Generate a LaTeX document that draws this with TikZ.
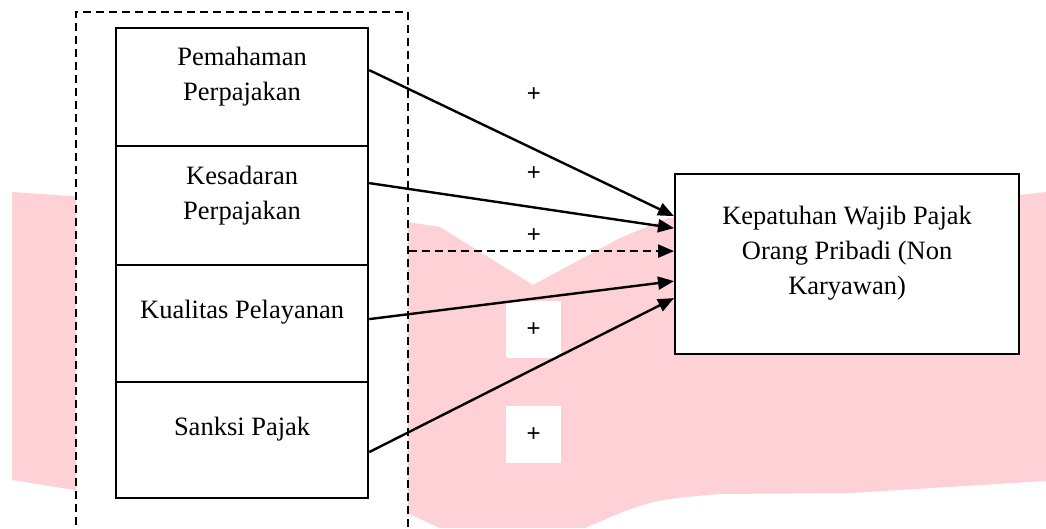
\documentclass[tikz,border=0pt]{standalone}
\usepackage{fontspec}
\setmainfont{Liberation Serif}
\newfontfamily\plusfont{Liberation Sans}
\usetikzlibrary{arrows.meta,calc}
\definecolor{wm}{RGB}{253,209,213}
\begin{document}
\begin{tikzpicture}[x=1pt,y=-1pt,
  box/.style={draw,line width=2.2pt,fill=white,minimum width=252pt,anchor=north west,inner sep=0pt},
  lbl/.style={font=\fontsize{26.5}{35}\selectfont,align=center,inner sep=0pt},
  plus/.style={font=\plusfont\fontsize{24}{24}\selectfont,inner sep=0pt},
  plusbg/.style={plus,fill=white,minimum width=55pt,minimum height=57pt},
  arr/.style={line width=2.4pt,-{Triangle[length=16pt,width=13pt]}},
  darr/.style={arr,dash pattern=on 8pt off 5pt}
]
\useasboundingbox (0,0) rectangle (1046,528);
\clip (0,0) rectangle (1046,528);
% watermark
\fill[wm] (12,192) -- (200,205) -- (407,222) -- (440,227) -- (533,285) -- (620,238) -- (668,218)
  -- (1020,195) -- (1046,192) -- (1046,481) -- (850,493) -- (720,494) .. controls (650,500) .. (585,528)
  -- (440,528) -- (407,513) -- (75,490) -- (12,480) -- cycle;
% group
\node[draw,line width=1.8pt,dash pattern=on 8pt off 5pt,fill=white,minimum width=332pt,minimum height=560pt,anchor=north west,inner sep=0pt] (grp) at (75,11) {};
% boxes
\node[box,minimum height=118pt] (b1) at (115,27) {};
\node[box,minimum height=119pt] (b2) at (115,145) {};
\node[box,minimum height=117pt] (b3) at (115,264) {};
\node[box,minimum height=116pt] (b4) at (115,381) {};
\node[box,minimum width=344pt,minimum height=180pt] (dep) at (674,173) {};
\node[lbl,yshift=10.5pt] (t1) at (b1.center) {Pemahaman\\Perpajakan};
\node[lbl,yshift=9.5pt] (t2) at (b2.center) {Kesadaran\\Perpajakan};
\node[lbl,yshift=11.5pt] (t3) at (b3.center) {Kualitas Pelayanan};
\node[lbl,yshift=11pt] (t4) at (b4.center) {Sanksi Pajak};
\node[lbl,yshift=11pt] (t5) at (dep.center) {Kepatuhan Wajib Pajak\\Orang Pribadi (Non\\Karyawan)};
% plus labels
\node[plus] (p1) at (534,95) {+};
\node[plus] (p2) at (534,174) {+};
\node[plus] (p3) at (534,236) {+};
\node[plusbg] (p4) at (533.5,329.5) {+};
\node[plusbg] (p5) at (533.5,434.5) {+};
% arrows
\coordinate (e3) at ([yshift=13pt]dep.west);
\draw[arr] ([yshift=17pt]b1.east) -- ([yshift=48pt]dep.west);
\draw[arr] ([yshift=22.5pt]b2.east) -- ([yshift=36pt]dep.west);
\draw[darr] (grp.east |- e3) -- (e3);
\draw[arr] ([yshift=4.5pt]b3.east) -- ([yshift=-17pt]dep.west);
\draw[arr] ([yshift=-12pt]b4.east) -- ([yshift=-34pt]dep.west);
\end{tikzpicture}
\end{document}
